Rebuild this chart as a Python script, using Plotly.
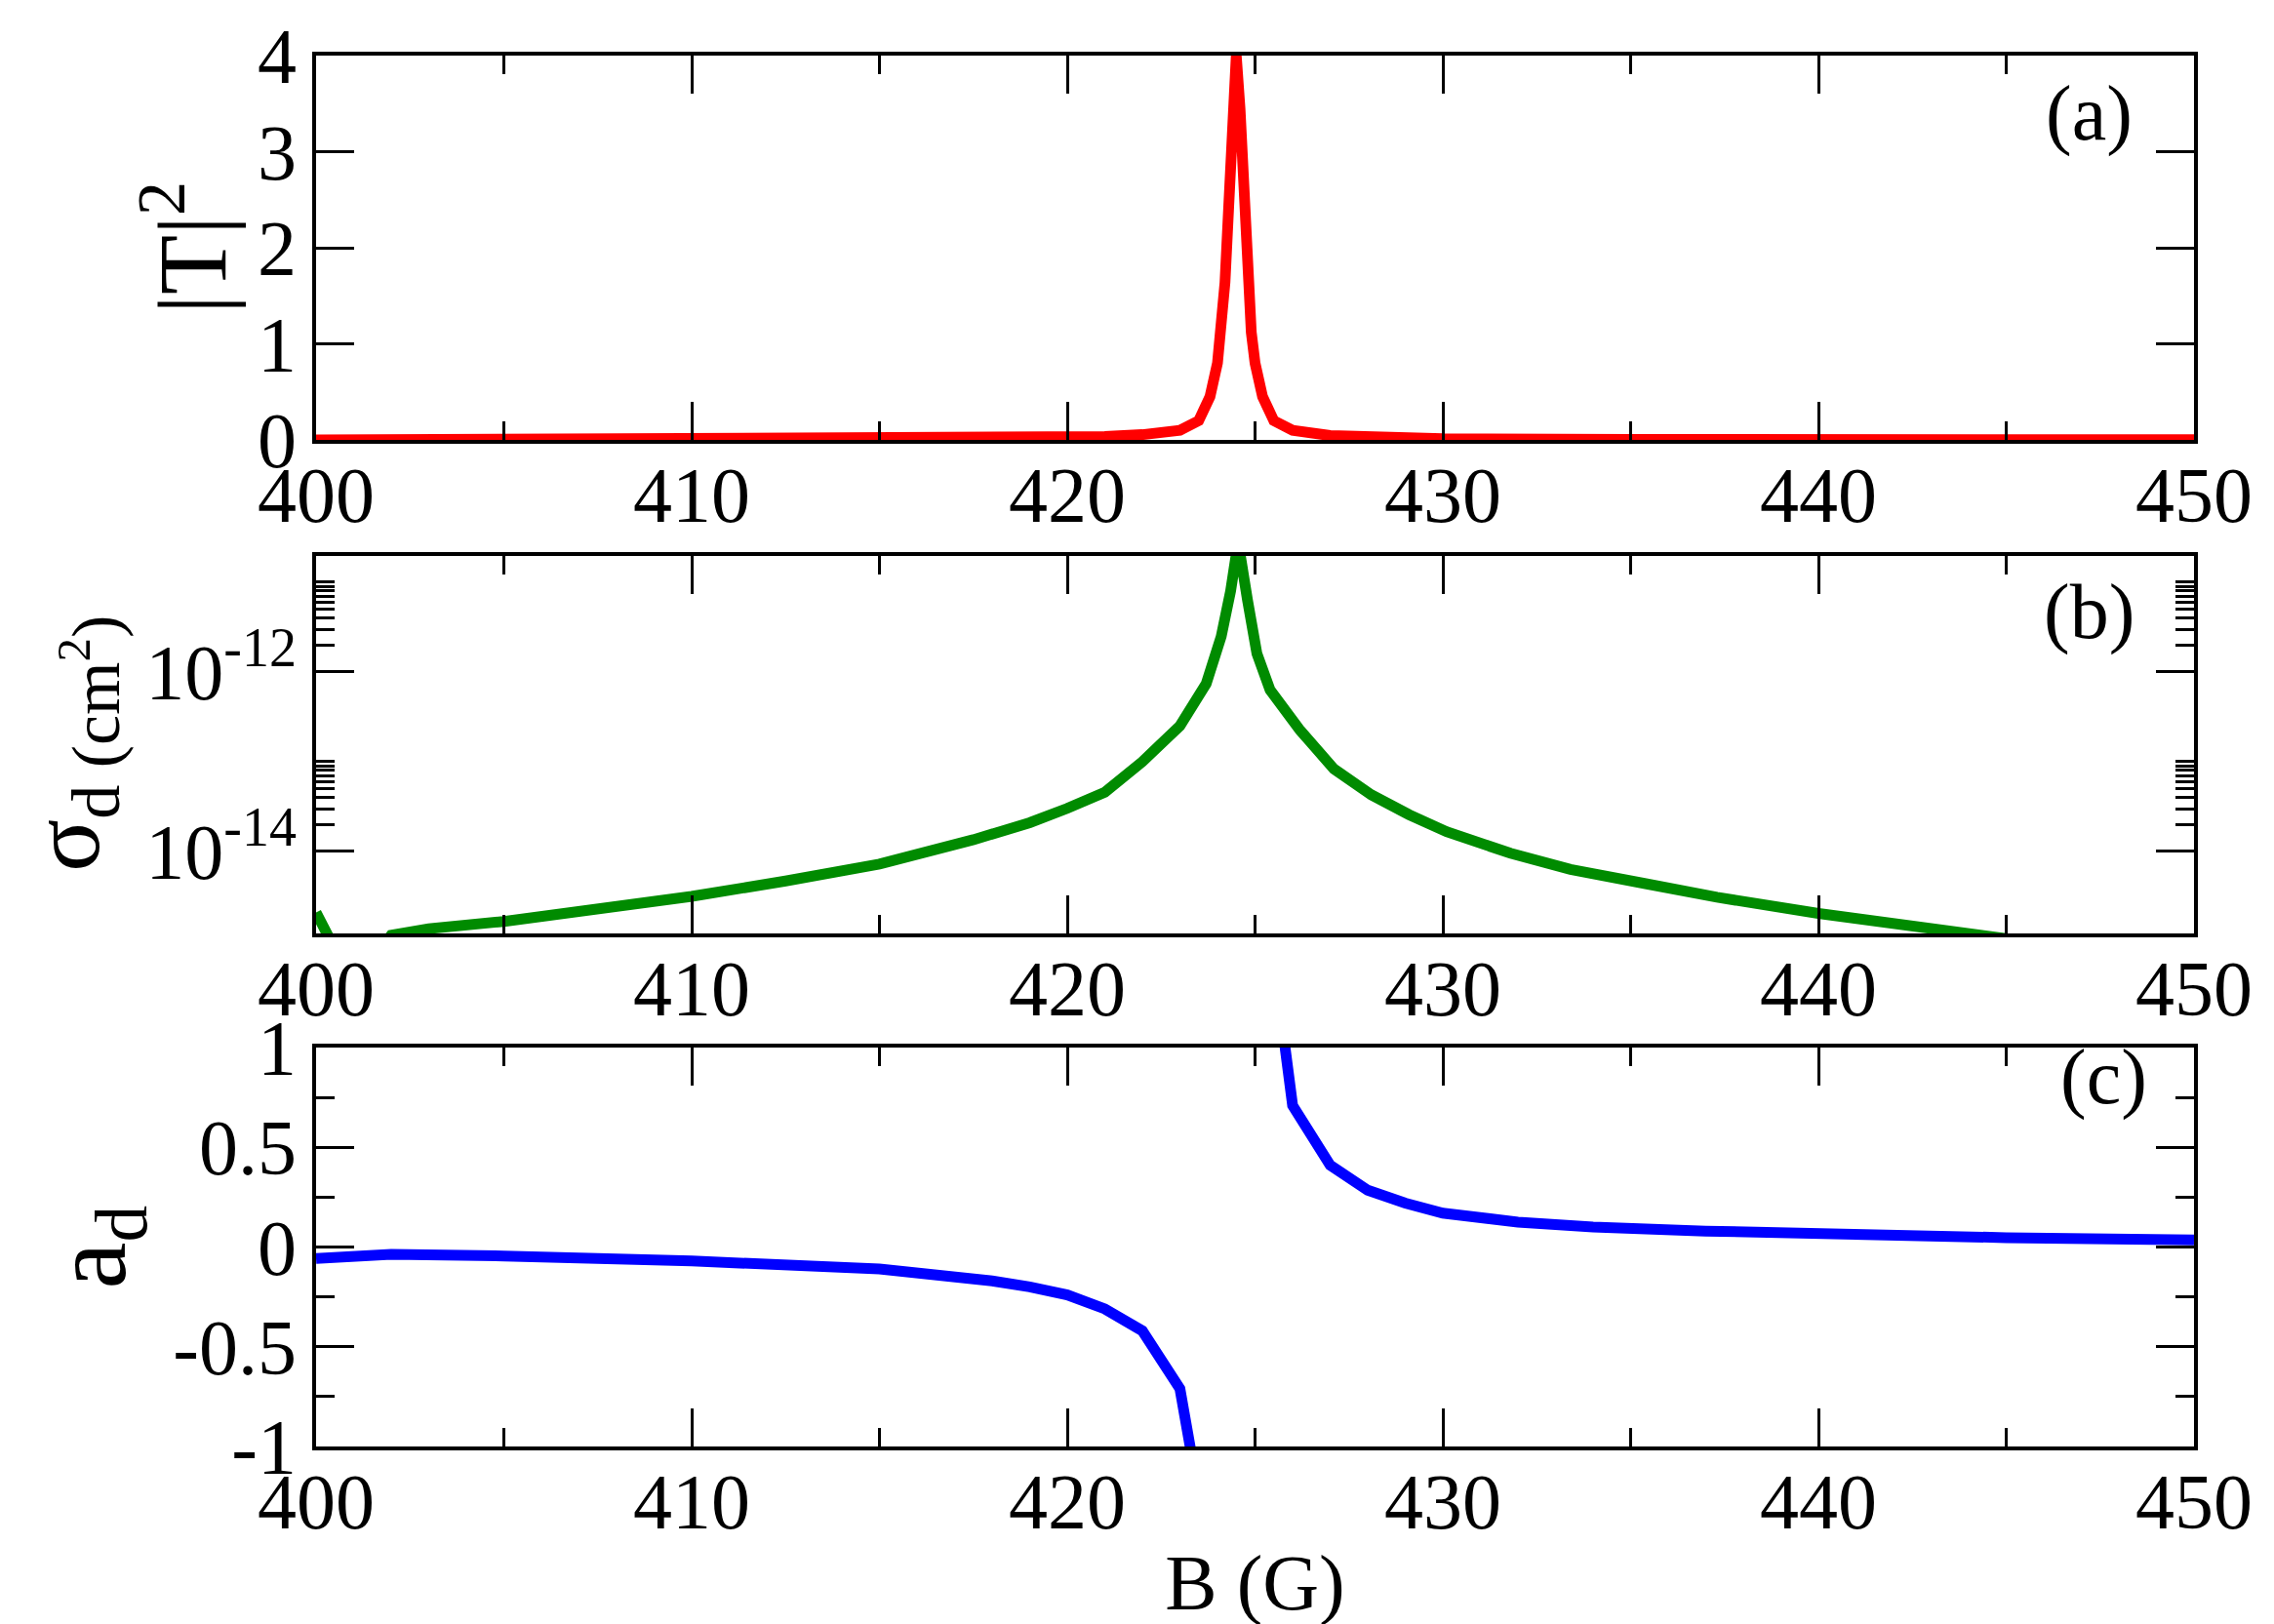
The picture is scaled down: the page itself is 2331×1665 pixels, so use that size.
import plotly.graph_objects as go
from plotly.subplots import make_subplots

# (a) |T|^2 versus B
B_T = [400, 405, 410, 415, 418, 420, 421, 422, 423, 423.5, 423.8, 424.0, 424.1,
       424.2, 424.3, 424.4, 424.5, 424.6, 424.7, 424.8, 424.9, 425.0, 425.2,
       425.5, 426, 427, 428, 430, 435, 440, 445, 450]
T2 = [0.0, 0.004, 0.006, 0.01, 0.016, 0.025, 0.035, 0.055, 0.1, 0.2, 0.45, 0.8,
      1.12, 1.64, 2.44, 3.45, 4.0, 3.45, 2.44, 1.64, 1.12, 0.8, 0.45,
      0.2, 0.1, 0.045, 0.027, 0.012, 0.006, 0.004, 0.003, 0.002]

# (b) sigma_d (cm^2) versus B
B_SIGMA = [400, 401, 402, 403, 405, 407.5, 410, 412.5, 415, 417.5, 419, 420, 421,
           422, 423, 423.7, 424.1, 424.35, 424.55, 424.8, 425.05, 425.4, 426.2,
           427.1, 428.1, 429.1, 430.1, 431.8, 433.4, 435.4, 437.3, 440, 442,
           444.2, 446, 450]
SIGMA = [2.09e-15, 3.2e-16, 1.17e-15, 1.38e-15, 1.66e-15, 2.24e-15, 3.16e-15,
         4.68e-15, 7.24e-15, 1.35e-14, 2.09e-14, 3.02e-14, 4.57e-14, 1.0e-13,
         2.51e-13, 7.41e-13, 2.5e-12, 8.0e-12, 2.82e-11, 6.3e-12, 1.6e-12,
         6.31e-13, 2.24e-13, 8.32e-14, 4.27e-14, 2.57e-14, 1.66e-14, 9.55e-15,
         6.31e-15, 4.37e-15, 3.09e-15, 2.04e-15, 1.58e-15, 1.23e-15, 9.5e-16,
         5.6e-16]

# (c) a_d versus B (broken across the pole)
B_AD = [400, 401, 402, 405, 410, 415, 417, 418, 419, 420, 421, 422, 423, 424,
        424.5, 425, 426, 427, 428, 429, 430, 432, 434, 437, 441, 445, 450]
AD = [-0.057, -0.045, -0.037, -0.045, -0.07, -0.11, -0.145, -0.17, -0.2, -0.24,
      -0.31, -0.42, -0.71, -1.78, None, 2.16, 0.71, 0.41, 0.285, 0.22, 0.17,
      0.125, 0.10, 0.08, 0.06, 0.047, 0.036]

X_TICKS = [400, 410, 420, 430, 440, 450]
T2_TICKS = [0, 1, 2, 3, 4]
SIGMA_TICKS = [1e-14, 1e-12]
SIGMA_TICKTEXT = ["10<sup>-14</sup>", "10<sup>-12</sup>"]
SIGMA_MINOR = [k * 1e-14 for k in range(2, 11)] + [k * 1e-12 for k in range(2, 11)]
AD_TICKS = [-1, -0.5, 0, 0.5, 1]
AD_TICKTEXT = ["-1", "-0.5", "0", "0.5", "1"]
PANEL_LABELS = ["(a)", "(b)", "(c)"]

FONT = "Liberation Serif"

fig = make_subplots(rows=3, cols=1)

fig.add_trace(go.Scatter(x=B_T, y=T2, mode="lines",
                         line=dict(color="#ff0000", width=11)), row=1, col=1)
fig.add_trace(go.Scatter(x=B_SIGMA, y=SIGMA, mode="lines",
                         line=dict(color="#008b00", width=11)), row=2, col=1)
fig.add_trace(go.Scatter(x=B_AD, y=AD, mode="lines", connectgaps=False,
                         line=dict(color="#0000ff", width=11)), row=3, col=1)

_frame = dict(showline=True, linewidth=4, linecolor="black", mirror="ticks",
              ticks="inside", ticklen=39, tickwidth=3, tickcolor="black",
              showgrid=False, zeroline=False, automargin=False,
              tickfont=dict(family=FONT, size=80, color="black"))
_minor = dict(ticks="inside", ticklen=19, tickwidth=3, tickcolor="black",
              showgrid=False)

fig.update_xaxes(range=[400, 450], tickmode="array", tickvals=X_TICKS,
                 ticklabelstandoff=-16,
                 minor=dict(tickmode="linear", tick0=400, dtick=5, **_minor),
                 **_frame)
fig.update_xaxes(title=dict(text="B (G)", font=dict(family=FONT, size=80),
                            standoff=12), row=3, col=1)

fig.update_yaxes(domain=[0.7237, 1.0], range=[0, 4], tickmode="array",
                 tickvals=T2_TICKS, row=1, col=1, **_frame)
fig.update_yaxes(domain=[0.3689, 0.6403], type="log", range=[-14.913, -10.707],
                 tickmode="array", tickvals=SIGMA_TICKS, ticktext=SIGMA_TICKTEXT,
                 minor=dict(tickmode="array", tickvals=SIGMA_MINOR, **_minor),
                 row=2, col=1, **_frame)
fig.update_yaxes(domain=[0.0, 0.2868], range=[-1, 1], tickmode="array",
                 tickvals=AD_TICKS, ticktext=AD_TICKTEXT,
                 minor=dict(tickmode="linear", tick0=0, dtick=0.25, **_minor),
                 row=3, col=1, **_frame)
fig.update_yaxes(ticklabelstandoff=0)

fig.update_yaxes(title=dict(text="|T|<sup>2</sup>", standoff=0,
                            font=dict(family=FONT, size=100)), row=1, col=1)
fig.update_yaxes(title=dict(text="a<sub>d</sub>", standoff=14,
                            font=dict(family=FONT, size=108)), row=3, col=1)

# sigma_d title as a rotated annotation (an axis title would be held inside the margin)
fig.add_annotation(text="σ<sub>d (cm<sup>2</sup>)</sub>", textangle=-90,
                   x=-0.13, y=0.5056, xref="paper", yref="paper",
                   xanchor="center", yanchor="middle", showarrow=False,
                   font=dict(family=FONT, size=100, color="black"))

# panel labels
for i, (lab, xpos, ypos) in enumerate(zip(PANEL_LABELS, [0.944, 0.944, 0.952],
                                          [0.85, 0.85, 0.925])):
    suffix = "" if i == 0 else str(i + 1)
    fig.add_annotation(text=lab, x=xpos, y=ypos, showarrow=False,
                       xref=f"x{suffix} domain", yref=f"y{suffix} domain",
                       xanchor="center", yanchor="middle",
                       font=dict(family=FONT, size=80, color="black"))

fig.update_layout(
    width=2331, height=1665,
    margin=dict(l=316, r=90, t=49, b=190),
    plot_bgcolor="white", paper_bgcolor="white",
    showlegend=False,
    font=dict(family=FONT, size=80, color="black"),
)

fig.write_html("out.html")
